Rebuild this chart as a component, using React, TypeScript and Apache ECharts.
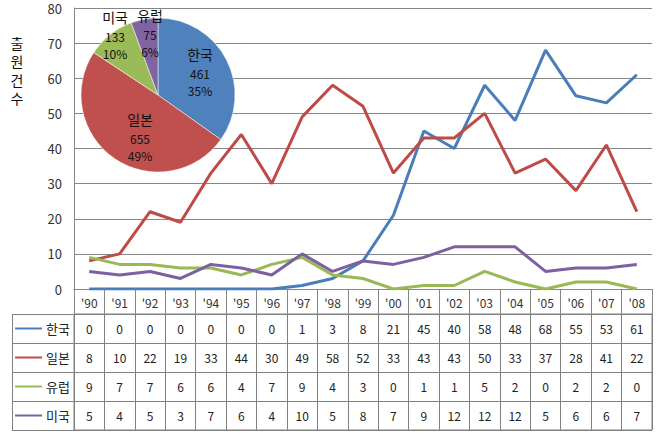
import React, { useEffect, useRef } from "react";
import * as echarts from "echarts";

const years = ["'90", "'91", "'92", "'93", "'94", "'95", "'96", "'97", "'98", "'99", "'00", "'01", "'02", "'03", "'04", "'05", "'06", "'07", "'08"];
const seriesNames = ["한국", "일본", "유럽", "미국"];
const korea = [0, 0, 0, 0, 0, 0, 0, 1, 3, 8, 21, 45, 40, 58, 48, 68, 55, 53, 61];
const japan = [8, 10, 22, 19, 33, 44, 30, 49, 58, 52, 33, 43, 43, 50, 33, 37, 28, 41, 22];
const europe = [9, 7, 7, 6, 6, 4, 7, 9, 4, 3, 0, 1, 1, 5, 2, 0, 2, 2, 0];
const usa = [5, 4, 5, 3, 7, 6, 4, 10, 5, 8, 7, 9, 12, 12, 12, 5, 6, 6, 7];
const lineColors = ["#4A7EBB", "#BE4B48", "#98B954", "#7D60A0"];

const pieNames = ["한국", "일본", "미국", "유럽"];
const pieValues = [461, 655, 133, 75];
const pieColors = ["#4F81BD", "#C0504D", "#9BBB59", "#8064A2"];

const yTicks = { min: 0, max: 80, interval: 10 };
const yTitleChars = ["출", "원", "건", "수"];

const FONT = '"Noto Sans CJK KR", "Noto Sans", sans-serif';
// label block centres for the pie slices (layout, not data)
const pieLabelPos: [number, number][] = [
  [200, 71],
  [140, 136],
  [115, 34],
  [150, 32],
];

export default function App() {
  const ref = useRef<HTMLDivElement>(null);
  useEffect(() => {
    if (!ref.current) return;
    const chart = echarts.init(ref.current, null, { renderer: "svg" });
    const allSeries = [korea, japan, europe, usa];
    const cellData: number[][] = [];
    allSeries.forEach((arr, r) => arr.forEach((v, c) => cellData.push([c, r, v])));
    const rich: any = {
      n: { fontSize: 13, color: "#222", padding: [0, 0, 0, 4], fontFamily: FONT },
    };
    lineColors.forEach((c, i) => {
      rich["l" + i] = { width: 27, height: 2, backgroundColor: c };
    });
    const option: any = {
      animation: false,
      textStyle: { fontFamily: FONT },
      grid: [
        { left: 74, right: 10, top: 8, height: 281 },
        { left: 74, right: 10, top: 314, height: 116, show: true, borderColor: "#808080", borderWidth: 1 },
      ],
      xAxis: [
        {
          gridIndex: 0,
          type: "category",
          data: years,
          boundaryGap: true,
          axisLine: { lineStyle: { color: "#868686" } },
          axisTick: { show: true, interval: 0, length: 25, lineStyle: { color: "#868686" } },
          axisLabel: { interval: 0, margin: 7, fontSize: 12, color: "#333", fontFamily: FONT },
        },
        {
          gridIndex: 1,
          type: "category",
          data: years,
          boundaryGap: true,
          axisLine: { show: false },
          axisTick: { show: false },
          axisLabel: { show: false },
          splitLine: { show: true, interval: 0, lineStyle: { color: "#808080" } },
        },
      ],
      yAxis: [
        {
          gridIndex: 0,
          type: "value",
          min: yTicks.min,
          max: yTicks.max,
          interval: yTicks.interval,
          axisLine: { show: true, lineStyle: { color: "#868686" } },
          axisTick: { show: false },
          splitLine: { show: true, lineStyle: { color: "#868686" } },
          axisLabel: { margin: 12, fontSize: 13, color: "#333", fontFamily: FONT },
        },
        {
          gridIndex: 1,
          type: "category",
          data: seriesNames,
          inverse: true,
          boundaryGap: true,
          axisLine: { show: false },
          axisTick: { show: true, interval: 0, length: 62, lineStyle: { color: "#808080" } },
          splitLine: { show: true, interval: 0, lineStyle: { color: "#808080" } },
          axisLabel: {
            margin: 4,
            formatter: (v: string, i: number) => `{l${i}| }{n|${v}}`,
            rich,
          },
        },
      ],
      graphic: [
        {
          type: "line",
          shape: { x1: 12.5, y1: 314, x2: 12.5, y2: 430 },
          style: { stroke: "#808080", lineWidth: 1 },
        },
        ...yTitleChars.map((ch, i) => ({
          type: "text",
          x: 17,
          y: 43 + i * 18.3,
          style: {
            text: ch,
            align: "center",
            verticalAlign: "middle",
            fontSize: 14,
            fill: "#111",
            fontFamily: FONT,
          },
        })),
      ],
      series: [
        ...allSeries.map((arr, i) => ({
          type: "line",
          name: seriesNames[i],
          xAxisIndex: 0,
          yAxisIndex: 0,
          data: arr,
          symbol: "none",
          lineStyle: { width: 3, color: lineColors[i] },
          itemStyle: { color: lineColors[i] },
          z: 3,
        })),
        {
          type: "custom",
          xAxisIndex: 1,
          yAxisIndex: 1,
          data: cellData,
          encode: { x: 0, y: 1 },
          renderItem: (params: any, api: any) => {
            const p = api.coord([api.value(0), api.value(1)]);
            return {
              type: "text",
              x: p[0],
              y: p[1],
              style: {
                text: String(api.value(2)),
                align: "center",
                verticalAlign: "middle",
                fill: "#222",
                fontSize: 12,
                fontFamily: FONT,
              },
            };
          },
        },
        {
          type: "pie",
          center: [158, 95],
          radius: 77,
          startAngle: 90,
          clockwise: true,
          z: 5,
          data: pieNames.map((n, i) => ({ name: n, value: pieValues[i], itemStyle: { color: pieColors[i] } })),
          itemStyle: { borderColor: "#fff", borderWidth: 0.5 },
          label: {
            show: true,
            position: "inside",
            align: "center",
            verticalAlign: "middle",
            formatter: (p: any) => `{n|${p.name}}\n{v|${p.value}}\n{v|${Math.round(p.percent)}%}`,
            rich: {
              n: { fontSize: 14, lineHeight: 21, color: "#111", fontFamily: FONT, align: "center" },
              v: { fontSize: 12, lineHeight: 17, color: "#111", fontFamily: FONT, align: "center" },
            },
          },
          labelLine: { show: false },
          labelLayout: (params: any) => ({
            x: pieLabelPos[params.dataIndex][0],
            y: pieLabelPos[params.dataIndex][1],
          }),
          emphasis: { disabled: true },
        },
      ],
    };
    chart.setOption(option);
    return () => chart.dispose();
  }, []);
  return <div ref={ref} style={{ position: "absolute", left: 0, top: 0, width: 662, height: 436, background: "#fff" }} />;
}
